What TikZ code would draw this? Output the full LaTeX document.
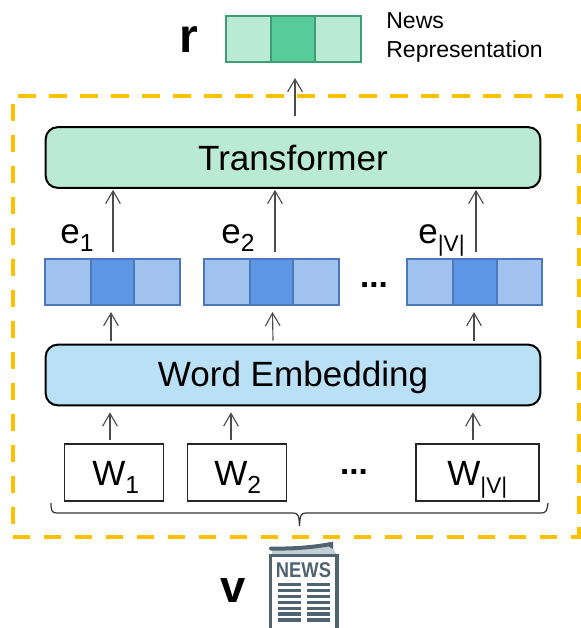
\documentclass[tikz,border=0pt]{standalone}
\usepackage{graphicx}
\usepackage{fontspec}
\setmainfont{Liberation Sans}
\usetikzlibrary{arrows.meta}
\definecolor{gl}{HTML}{BAEAD3}
\definecolor{gd}{HTML}{57CC99}
\definecolor{gb}{HTML}{3F9C73}
\definecolor{bl}{HTML}{A1C1EE}
\definecolor{bd}{HTML}{5E96E6}
\definecolor{bb}{HTML}{4A78B8}
\definecolor{emb}{HTML}{BAE0F5}
\definecolor{org}{HTML}{FFC000}
\definecolor{ink}{HTML}{4F6470}
\definecolor{cov}{HTML}{C3CED5}
\newcommand{\fs}[1]{\fontsize{#1}{#1}\selectfont}
\newcommand{\subd}[1]{\raisebox{-6pt}{\fs{18.5}#1}}
\newcommand{\subv}[1]{\raisebox{-6pt}{\fs{17}#1}}
\tikzset{
  x=0.75pt,y=-0.75pt,
  cell/.style={minimum height=34.5pt,inner sep=0pt,outer sep=0pt,draw,line width=1.5pt},
  gcell/.style={cell,draw=gb,fill=gl},
  gmid/.style={cell,draw=gb,fill=gd},
  bcell/.style={cell,draw=bb,fill=bl},
  bmid/.style={cell,draw=bb,fill=bd},
  bigbox/.style={draw=black,line width=1.5pt,rounded corners=9pt,minimum width=371pt,minimum height=45.5pt,inner sep=0pt,outer sep=0pt},
  wbox/.style={draw=black!85,line width=1.2pt,fill=white,minimum height=42.5pt,inner sep=0pt,outer sep=0pt},
  lab/.style={inner sep=0pt,font=\fs{26.3}},
  arr/.style={draw=black!70,line width=0.85pt,-{Straight Barb[length=9.5pt,width=11pt,line width=0.85pt]}},
  rule/.style={draw=ink,line width=2.4pt},
}
\newcommand{\vecrow}[7]{%
  \node[#7cell,minimum width=#3*0.75pt-#2*0.75pt] (#1a) at ({(#2+#3)/2},#6) {};
  \node[#7cell,minimum width=#5*0.75pt-#4*0.75pt] (#1c) at ({(#4+#5)/2},#6) {};
  \node[#7mid,minimum width=#4*0.75pt-#3*0.75pt] (#1b) at ({(#3+#4)/2},#6) {};
}
\begin{document}
\begin{tikzpicture}
\useasboundingbox (0,0) rectangle (581,628);
% dashed frame
\node[draw=org,line width=3pt,dash pattern=on 13.3pt off 9.95pt,minimum width=424.5pt,minimum height=331pt,inner sep=0pt] (frame) at (295.5,316.5) {};
% output vector
\vecrow{r}{226}{271}{315}{361}{39}{g}
\node[inner sep=0pt,anchor=base,font=\fs{36}\bfseries] (rl) at (189,52) {r};
\node[inner sep=0pt,font=\fs{17.3},align=left,anchor=north west] (nr) at (386,12) {News\\[4.5pt]Representation};
% main boxes
\node[bigbox,fill=gl] (tr) at (293,157.5) {\fs{26.3}Transformer};
\node[bigbox,fill=emb] (we) at (293,375) {\raisebox{-8.25pt}[0pt][0pt]{\fs{26.3}Word Embedding}};
% embedding vectors
\vecrow{ea}{45}{91}{134}{180}{282}{b}
\vecrow{eb}{204}{250}{293}{339}{282}{b}
\vecrow{ec}{407}{453}{497}{542}{282}{b}
\node[lab,anchor=base west] (e1) at (60,243) {e\subd{1}};
\node[lab,anchor=base west] (e2) at (221,243) {e\subd{2}};
\node[lab,anchor=base west] (e3) at (418,243) {e\subv{|V|}};
\node[inner sep=0pt,anchor=base,font=\fs{25}\bfseries] (d1) at (374,287) {...};
\node[inner sep=0pt,anchor=base,font=\fs{25}\bfseries] (d2) at (354,474) {...};
% words
\node[wbox,minimum width=74pt] (w1) at (114,472.5) {};
\node[wbox,minimum width=74pt] (w2) at (237,472.5) {};
\node[wbox,minimum width=92pt] (w3) at (477.5,472.5) {};
\node[lab,anchor=base west] (t1) at (92,485) {W\subd{1}};
\node[lab,anchor=base west] (t2) at (214,485) {W\subd{2}};
\node[lab,anchor=base west] (t3) at (447,485) {W\subv{|V|}};
% connectors
\draw[arr] ([shift={(2,-11)}]tr.north) -- ([shift={(2,16)}]rb.south);
\draw[arr] ([shift={(0.5,-7)}]eab.north) -- ([shift={(-180,2)}]tr.south);
\draw[arr] ([shift={(3.5,-7)}]ebb.north) -- ([shift={(-18,2)}]tr.south);
\draw[arr] ([shift={(1,-7)}]ecb.north) -- ([shift={(183,2)}]tr.south);
\draw[arr] ([shift={(-182,-4)}]we.north) -- ([shift={(-1.5,7)}]eab.south);
\draw[arr] ([shift={(-20,-4)}]we.north) -- ([shift={(1,7)}]ebb.south);
\draw[arr] ([shift={(181,-4)}]we.north) -- ([shift={(-1,7)}]ecb.south);
\draw[arr] ([shift={(-4,-4)}]w1.north) -- ([shift={(-183,7)}]we.south);
\draw[arr] ([shift={(-6,-4)}]w2.north) -- ([shift={(-62,7)}]we.south);
\draw[arr] ([shift={(-4.5,-4)}]w3.north) -- ([shift={(180,7)}]we.south);
% brace
\draw[draw=black!80,line width=0.9pt] (51,503) .. controls (51,511) and (52,513) .. (57,513)
  -- (293,513) .. controls (298,513) and (299,515) .. (299.5,526)
  .. controls (300,515) and (301,513) .. (306,513) -- (541,513)
  .. controls (546,513) and (547,511) .. (548,503);
% newspaper icon
\fill[cov] (272,549) .. controls (295,549) and (315,547) .. (331,545) -- (337,555) -- (272,555) -- cycle;
\draw[rule,line width=3pt,line cap=round] (271,548.5) .. controls (295,549) and (315,547) .. (331,544);
\fill[ink] (333,541.5) -- (333,549) -- (328,546) -- cycle;
\draw[rule,line width=2.6pt] (270.5,628) -- (270.5,555.5) -- (337,555.5) -- (337,628);
\node[inner sep=0pt,anchor=base,text=ink,font=\fs{16}\bfseries] (nw) at (303.5,577) {\scalebox{.86}[1]{NEWS}};
\foreach \yy in {584.5,590.4,596.3,602.2,608.1,614,619.9}{
  \draw[rule] (278,\yy) -- (301,\yy);
  \draw[rule] (307,\yy) -- (330,\yy);
}
\node[inner sep=0pt,anchor=base,font=\fs{34}\bfseries] (vl) at (233,602) {v};
\end{tikzpicture}
\end{document}
